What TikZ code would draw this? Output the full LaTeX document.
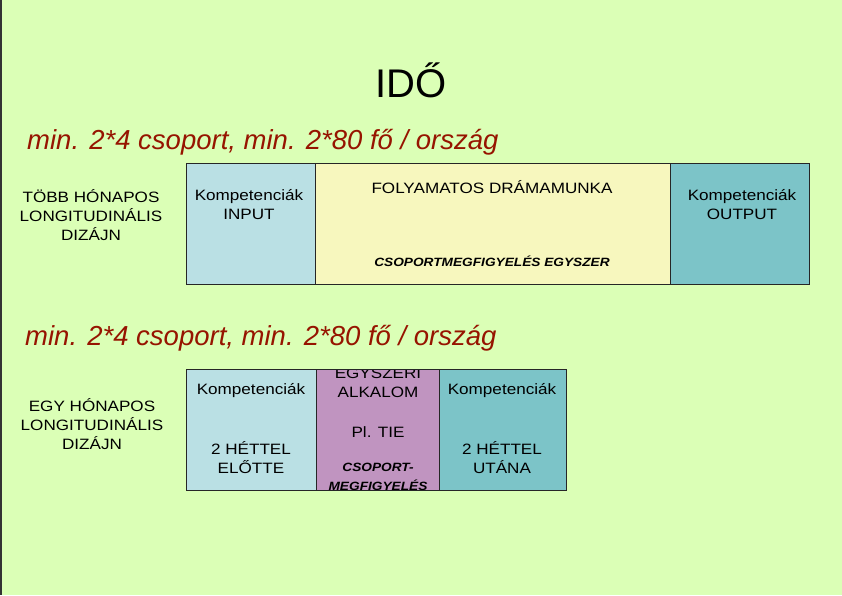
\documentclass[tikz,border=0pt]{standalone}
\usepackage{fontspec}
\setmainfont{Liberation Sans}
\newfontfamily\widesans[FakeStretch=1.14]{Liberation Sans}
\definecolor{bgc}{RGB}{219,255,182}
\definecolor{lblue}{RGB}{186,224,228}
\definecolor{yel}{RGB}{247,247,190}
\definecolor{teal2}{RGB}{124,196,200}
\definecolor{purp}{RGB}{192,148,192}
\definecolor{dred}{RGB}{150,20,0}
\begin{document}
\begin{tikzpicture}[x=1pt,y=-1pt,
  cell/.style={draw=black!85,line width=0.8pt,anchor=north west,inner sep=0pt},
  lbl/.style={font=\widesans\fontsize{15}{19}\selectfont,align=center,inner sep=0pt},
  itl/.style={font=\widesans\fontsize{12}{19}\selectfont\bfseries\itshape,align=center,inner sep=0pt},
  sub/.style={font=\fontsize{27.5}{30}\selectfont\itshape,text=dred,anchor=base west,inner sep=0pt}]
\fill[bgc] (0,0) rectangle (842,595);
\useasboundingbox (0,0) rectangle (842,595);
\draw[black!80,line width=1.5pt] (0.75,0) -- (0.75,595);
\node[font=\fontsize{40}{44}\selectfont,anchor=base,inner sep=0pt] (title) at (411,97) {IDŐ};
\node[sub] (s1) at (27,149) {min. 2*4 csoport, min. 2*80 fő / ország};
\node[sub] (s2) at (25,345) {min. 2*4 csoport, min. 2*80 fő / ország};
% row 1
\node[cell,fill=lblue,minimum width=129pt,minimum height=121pt] (a1) at (186,163) {};
\node[cell,fill=yel,minimum width=355pt,minimum height=121pt] (b1) at (315,163) {};
\node[cell,fill=teal2,minimum width=139pt,minimum height=121pt] (c1) at (670,163) {};
\node[lbl] (t1) at (91,215) {TÖBB HÓNAPOS\\LONGITUDINÁLIS\\DIZÁJN};
\node[lbl] (ta1) at (249,205) {Kompetenciák\\INPUT};
\node[lbl] (tb1) at (492,187) {FOLYAMATOS DRÁMAMUNKA};
\node[itl] (tb1b) at (492,261) {CSOPORTMEGFIGYELÉS EGYSZER};
\node[lbl] (tc1) at (742,205) {Kompetenciák\\OUTPUT};
% row 2
\node[cell,fill=lblue,minimum width=130pt,minimum height=121pt] (a2) at (186,369) {};
\node[cell,fill=purp,minimum width=123pt,minimum height=121pt] (b2) at (316,369) {};
\node[cell,fill=teal2,minimum width=127pt,minimum height=121pt] (c2) at (439,369) {};
\node[lbl] (t2) at (92,424) {EGY HÓNAPOS\\LONGITUDINÁLIS\\DIZÁJN};
\node[lbl] (ta2) at (251,391) {Kompetenciák};
\node[lbl] (ta2b) at (251,458) {2 HÉTTEL\\ELŐTTE};
\node[lbl] (tc2) at (502,391) {Kompetenciák};
\node[lbl] (tc2b) at (502,458) {2 HÉTTEL\\UTÁNA};
\begin{scope}
\clip (316.5,369.5) rectangle (438.5,489.5);
\node[lbl] (tb2) at (378,383) {EGYSZERI\\ALKALOM};
\node[lbl] (tb2b) at (378,432) {Pl. TIE};
\node[itl] (tb2c) at (378,477) {CSOPORT-\\MEGFIGYELÉS};
\end{scope}
\draw[black!85,line width=0.8pt] (b2.north west) rectangle (b2.south east);
\end{tikzpicture}
\end{document}
